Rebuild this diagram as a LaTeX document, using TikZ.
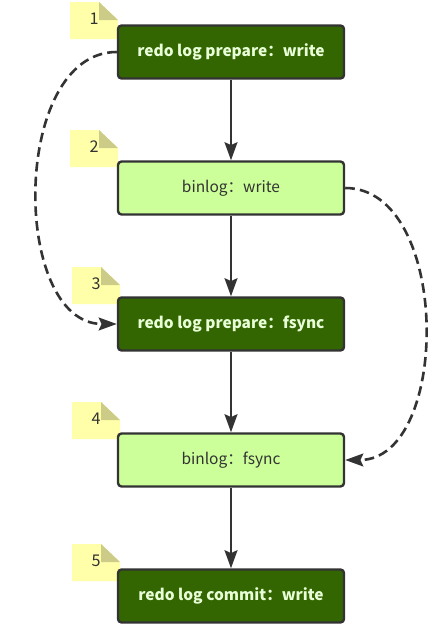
\documentclass[tikz,border=0pt]{standalone}
\usepackage{fontspec}
\setmainfont{Noto Sans CJK SC}
\usetikzlibrary{arrows.meta}
\definecolor{darkbox}{HTML}{336600}
\definecolor{lightbox}{HTML}{CCFF99}
\definecolor{boxline}{HTML}{333333}
\definecolor{darktext}{HTML}{E8FFD8}
\definecolor{notepaper}{HTML}{FFFFAA}
\definecolor{notefold}{HTML}{CCCC88}
\tikzset{
  stage/.style={draw=boxline, line width=0.06cm, rounded corners=0.09cm,
    minimum width=5.65cm, minimum height=1.325cm},
  darkstage/.style={stage, fill=darkbox, text=darktext,
    font=\fontsize{11pt}{13pt}\selectfont\bfseries},
  lightstage/.style={stage, fill=lightbox, text=boxline,
    font=\fontsize{11pt}{13pt}\selectfont},
  flow/.style={draw=boxline, line width=0.065cm,
    -{Stealth[length=0.45cm,width=0.32cm,inset=0.07cm]}},
  backflow/.style={flow, dash pattern=on 0.24cm off 0.13cm},
  notenum/.style={text=boxline, font=\fontsize{11.5pt}{13pt}\selectfont, inner sep=0pt}
}
\newcommand{\stepnote}[4]{
  \fill[notepaper] (#1,#2) -- ++(29,0) -- ++(19,18) -- ++(0,19) -- ++(-48,0) -- cycle;
  \fill[notefold] (#1,#2) ++(29,0) -- ++(19,18) -- ++(-19,0) -- cycle;
  \node[notenum] (#3) at ([shift={(24,17)}]#1,#2) {#4};
}

\begin{document}
\begin{tikzpicture}[x=0.025cm, y=-0.025cm]
\useasboundingbox (0,0) rectangle (439,632);
\clip (0,0) rectangle (439,632);
\stepnote{70}{2}{note1}{1}
\stepnote{70}{130}{note2}{2}
\stepnote{72}{267}{note3}{3}
\stepnote{72}{402}{note4}{4}
\stepnote{72}{544}{note5}{5}
\node[darkstage] (prepwrite) at (231,52) {redo log prepare：write};
\node[lightstage] (binwrite) at (231,188) {binlog：write};
\node[darkstage] (prepsync) at (231,324) {redo log prepare：fsync};
\node[lightstage] (binsync) at (231,460) {binlog：fsync};
\node[darkstage] (commit) at (231,596) {redo log commit：write};
\draw[flow] (prepwrite) -- (binwrite);
\draw[flow] (binwrite) -- (prepsync);
\draw[flow] (prepsync) -- (binsync);
\draw[flow] (binsync) -- (commit);
\draw[backflow] (prepwrite.west) to[out=180, in=180] (prepsync.west);
\draw[backflow] (binwrite.east) to[out=0, in=0] (binsync.east);
\end{tikzpicture}
\end{document}
